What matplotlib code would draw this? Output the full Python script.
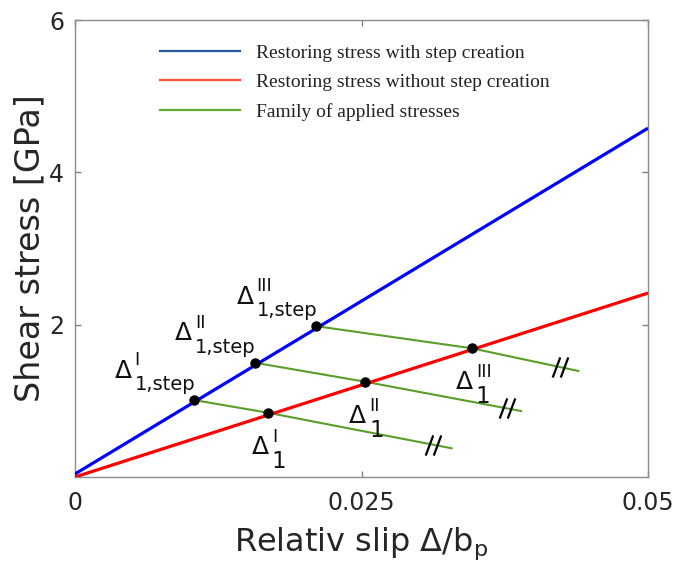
import numpy as np
import matplotlib
matplotlib.use('Agg')
import matplotlib.pyplot as plt
from matplotlib.lines import Line2D
from matplotlib.path import Path

# ---------------- data ----------------
x_line = [0.0, 0.05]
restoring_step = [0.04, 4.58]       # with step creation
restoring_nostep = [0.0, 2.415]     # without step creation

step_x = [0.01041, 0.01571, 0.02106]
step_y = [1.01, 1.50, 1.98]
nostep_x = [0.01682, 0.02531, 0.03462]
nostep_y = [0.844, 1.251, 1.69]
applied_end_x = [0.03287, 0.03892, 0.04392]
applied_end_y = [0.377, 0.866, 1.392]
break_x = [0.03124, 0.03767, 0.04232]

roman = ['I', 'II', 'III']
legend_labels = ['Restoring stress with step creation',
                 'Restoring stress without step creation',
                 'Family of applied stresses']
x_ticks = [0, 0.025, 0.05]
x_ticklabels = ['0', '0.025', '0.05']
y_ticks = [2, 4, 6]
y_ticklabels = ['2', '4', '6']

# ---------------- style ----------------
plt.rcParams['font.family'] = ['DejaVu Sans']
plt.rcParams['mathtext.fontset'] = 'dejavusans'

fig = plt.figure(figsize=(6.75, 5.74), dpi=100)
ax = fig.add_axes([75 / 675, 1 - 477 / 574, 573 / 675, 457 / 574])

blue = '#0000ff'
red = '#ff0000'
green = '#5a9e2a'

ax.plot(x_line, restoring_step, color=blue, lw=2.3, solid_capstyle='butt', zorder=3)
ax.plot(x_line, restoring_nostep, color=red, lw=2.3, solid_capstyle='butt', zorder=3)

for i in range(3):
    gx = [step_x[i], nostep_x[i], applied_end_x[i]]
    gy = [step_y[i], nostep_y[i], applied_end_y[i]]
    ax.plot(gx, gy, color=green, lw=1.5, zorder=2)

ax.plot(step_x, step_y, 'o', color='black', ms=6.5, zorder=5)
ax.plot(nostep_x, nostep_y, 'o', color='black', ms=6.5, zorder=5)

# break marks "//"
verts = [(-0.775, -1), (-0.025, 1), (0.025, -1), (0.775, 1)]
codes = [Path.MOVETO, Path.LINETO, Path.MOVETO, Path.LINETO]
slash = Path(verts, codes)
for i in range(3):
    by = np.interp(break_x[i], [nostep_x[i], applied_end_x[i]], [nostep_y[i], applied_end_y[i]])
    ax.plot([break_x[i]], [by], marker=slash, ms=14.5, mec='black', mfc='none', mew=1.6,
            linestyle='none', zorder=6)


def label(xy, base, sup, sub, sup_size, sub_size, sup_dy, sub_dy):
    bx, by = base
    kw = dict(xy=xy, textcoords='offset points', ha='left', va='baseline', color='#111111')
    ax.annotate('\u0394', xytext=(bx, by), fontsize=18, **kw)
    ax.annotate(sup, xytext=(bx + 14.5, by + sup_dy), fontsize=sup_size, **kw)
    ax.annotate(sub, xytext=(bx + 14.5, by + sub_dy), fontsize=sub_size, **kw)


for i in range(3):
    label((step_x[i], step_y[i]), (-57.5, 16.2), roman[i], '1,step', 13, 14, 8.8, -9.0)
    label((nostep_x[i], nostep_y[i]), (-11.5, -29.5), roman[i], '1', 13, 16.5, 8.5, -10.0)

# axes formatting
ax.set_xlim(0, 0.05)
ax.set_ylim(0, 6)
ax.set_xticks(x_ticks)
ax.set_xticklabels(x_ticklabels)
ax.set_yticks(y_ticks)
ax.set_yticklabels(y_ticklabels)
ax.tick_params(direction='in', length=4, width=1, color='#808080', labelcolor='#262626',
               top=True, right=True, labelsize=17)
ax.tick_params(axis='x', pad=10)
ax.tick_params(axis='y', pad=8)
for s in ax.spines.values():
    s.set_color('#8c8c8c')
    s.set_linewidth(1.0)

ax.set_xlabel(r'Relativ slip $\Delta$/b$_\mathrm{p}$', fontsize=23, color='#262626', labelpad=8)
ax.set_ylabel('Shear stress [GPa]', fontsize=24, color='#262626', labelpad=2)

# legend
handles = [Line2D([], [], color='#245aa0', lw=1.6),
           Line2D([], [], color='#ff4d2e', lw=1.6),
           Line2D([], [], color='#62ad35', lw=1.6)]
leg = ax.legend(handles, legend_labels, loc='upper left', bbox_to_anchor=(0.148, 0.947),
                frameon=False, borderpad=0, borderaxespad=0, handlelength=4.1,
                handletextpad=0.85, labelspacing=0.6,
                prop={'family': 'Liberation Serif', 'size': 14})
for t in leg.get_texts():
    t.set_color('#222222')

fig.savefig('out.png', dpi=100)
